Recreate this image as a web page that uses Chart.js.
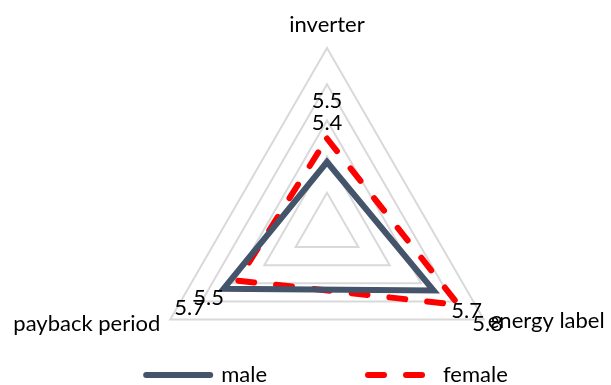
<!DOCTYPE html>
<html>
<head>
<meta charset="utf-8">
<script src="https://cdn.jsdelivr.net/npm/chart.js@4/dist/chart.umd.min.js"></script>
<style>
  html, body { margin: 0; padding: 0; background: #fff; }
  #wrap { width: 611px; height: 385px; }
</style>
</head>
<body>
<div id="wrap"><canvas id="grafico" width="611" height="385"></canvas></div>
<script>
// dados
const categorias = ['inverter', 'energy label', 'payback period'];
const masculino = [5.37, 5.68, 5.66];
const feminino = [5.50, 5.84, 5.57];
// rótulos de dados como aparecem no gráfico original
const rotulosMasc = ['5.4', '5.7', '5.5'];
const rotulosFem = ['5.5', '5.8', '5.7'];
const escalaMin = 5, escalaMax = 6, passo = 0.2;

// geometria do radar (centro e raio em px)
const CENTRO_X = 327, CENTRO_Y = 229, RAIO = 181;
const FONTE = '22px Lato';

// deslocamentos dos textos (estilo, não dados)
const offsetsEixo = [[0, -16, 'center'], [4, 8, 'left'], [-10, 11, 'right']];
const offsetsRotulo = [
  [[0, -32], [33, 27], [-15, 16]],
  [[0, -31], [29, 26], [-48, 34]]
];
const rotulos = [rotulosMasc, rotulosFem];

const textosPlugin = {
  id: 'textos',
  afterDraw(chart) {
    const ctx = chart.ctx;
    const s = chart.scales.r;
    ctx.save();
    ctx.font = FONTE;
    ctx.fillStyle = '#000';
    ctx.textBaseline = 'alphabetic';
    categorias.forEach((nome, i) => {
      const p = s.getPointPosition(i, s.drawingArea);
      const [dx, dy, al] = offsetsEixo[i];
      ctx.textAlign = al;
      ctx.fillText(nome, p.x + dx, p.y + dy);
    });
    ctx.textAlign = 'center';
    rotulos.forEach((lista, d) => {
      const pts = chart.getDatasetMeta(d).data;
      lista.forEach((txt, i) => {
        const [dx, dy] = offsetsRotulo[d][i];
        ctx.fillText(txt, pts[i].x + dx, pts[i].y + dy);
      });
    });
    ctx.restore();
  }
};

new Chart(document.getElementById('grafico'), {
  type: 'radar',
  data: {
    labels: categorias,
    datasets: [{
      label: 'male',
      data: masculino,
      borderColor: '#44546A',
      backgroundColor: 'rgba(0,0,0,0)',
      borderWidth: 6,
      borderJoinStyle: 'miter',
      borderCapStyle: 'round',
      pointRadius: 0,
      fill: false,
      clip: false
    }, {
      label: 'female',
      data: feminino,
      borderColor: '#FF0000',
      backgroundColor: 'rgba(0,0,0,0)',
      borderWidth: 6,
      borderDash: [16, 22],
      borderCapStyle: 'round',
      borderJoinStyle: 'round',
      pointRadius: 0,
      fill: false,
      clip: false
    }]
  },
  options: {
    responsive: false,
    animation: false,
    devicePixelRatio: 1,
    layout: { padding: { left: 23, right: -20, top: 0, bottom: -11 } },
    plugins: {
      legend: {
        position: 'bottom',
        labels: {
          usePointStyle: true,
          pointStyle: 'line',
          pointStyleWidth: 64,
          padding: 101,
          color: '#000',
          font: { family: 'Lato', size: 22 },
          generateLabels: chart => {
            const itens = Chart.defaults.plugins.legend.labels.generateLabels(chart);
            return itens.map(it => {
              const ds = chart.data.datasets[it.datasetIndex];
              it.lineDash = ds.borderDash || [];
              it.lineWidth = ds.borderWidth;
              it.lineCap = 'round';
              it.strokeStyle = ds.borderColor;
              return it;
            });
          }
        }
      },
      tooltip: { enabled: false }
    },
    scales: {
      r: {
        min: escalaMin,
        max: escalaMax,
        ticks: { display: false, stepSize: passo },
        grid: { color: '#d9d9d9', lineWidth: 2 },
        angleLines: { display: false },
        pointLabels: { display: false },
        afterFit: s => {
          s.xCenter = CENTRO_X;
          s.yCenter = CENTRO_Y;
          s.drawingArea = RAIO;
        }
      }
    }
  },
  plugins: [textosPlugin]
});
</script>
</body>
</html>
